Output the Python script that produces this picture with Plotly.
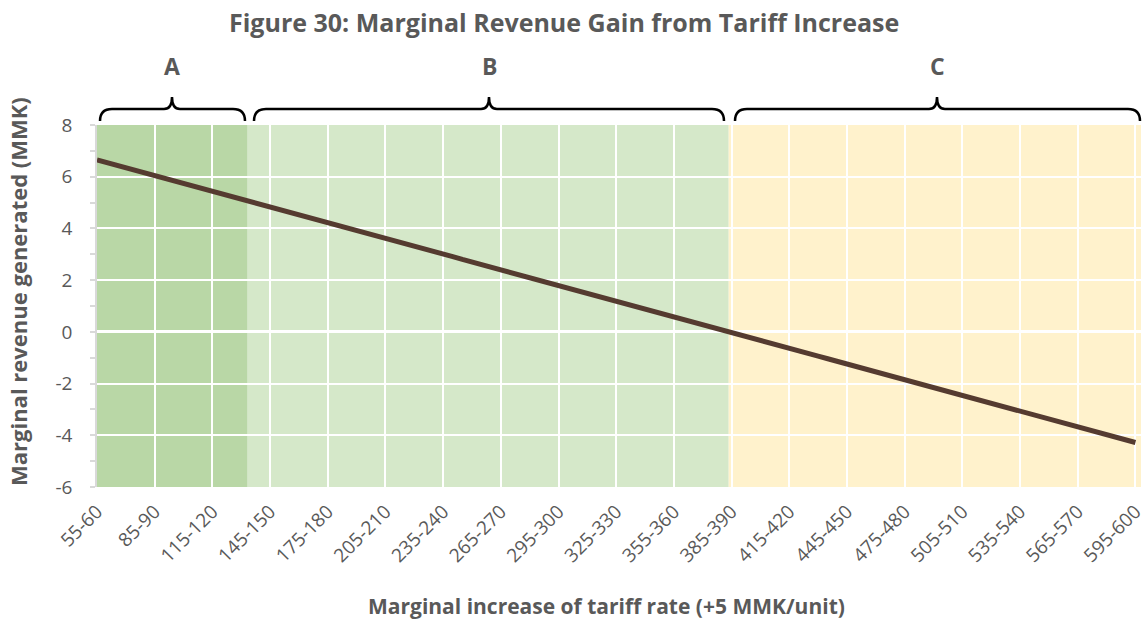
import plotly.graph_objects as go

# ---------------- data ----------------
categories = [f"{a}-{a + 5}" for a in range(55, 600, 5)]  # 55-60 ... 595-600
revenue = [
    6.65, 6.55, 6.45, 6.35, 6.25, 6.14, 6.04, 5.94, 5.84, 5.74,
    5.64, 5.54, 5.44, 5.33, 5.23, 5.13, 5.03, 4.93, 4.83, 4.73,
    4.63, 4.52, 4.42, 4.32, 4.22, 4.12, 4.02, 3.92, 3.82, 3.72,
    3.61, 3.51, 3.41, 3.31, 3.21, 3.11, 3.01, 2.91, 2.80, 2.70,
    2.60, 2.50, 2.40, 2.30, 2.20, 2.10, 1.99, 1.89, 1.79, 1.69,
    1.59, 1.49, 1.39, 1.29, 1.19, 1.08, 0.98, 0.88, 0.78, 0.68,
    0.58, 0.48, 0.38, 0.27, 0.17, 0.07, -0.03, -0.13, -0.23, -0.33,
    -0.43, -0.54, -0.64, -0.74, -0.84, -0.94, -1.04, -1.14, -1.24, -1.34,
    -1.45, -1.55, -1.65, -1.75, -1.85, -1.95, -2.05, -2.15, -2.26, -2.36,
    -2.46, -2.56, -2.66, -2.76, -2.86, -2.96, -3.07, -3.17, -3.27, -3.37,
    -3.47, -3.57, -3.67, -3.77, -3.87, -3.98, -4.08, -4.18, -4.28,
]
tick_labels = ["55-60", "85-90", "115-120", "145-150", "175-180", "205-210",
               "235-240", "265-270", "295-300", "325-330", "355-360", "385-390",
               "415-420", "445-450", "475-480", "505-510", "535-540", "565-570",
               "595-600"]
y_ticks = [-6, -4, -2, 0, 2, 4, 6, 8]
y_tick_text = ["-6", "-4", "-2", "0", "2", "4", "6", "8"]
zone_names = ["A", "B", "C"]
zone_edges = [0, 15.67, 65.7, 108.6]   # category-index positions of zone boundaries
zone_colors = ["#b9d7a6", "#d5e8c9", "#fff2cc"]

# ---------------- layout geometry (pixels) ----------------
W, H = 1145, 624
L, R, T, B = 97, 1141, 125, 487
PW, PH = R - L, B - T


def px(x):
    return (x - L) / PW


def py(y):
    return (B - y) / PH


GRAY = "#595959"
FONT = "Open Sans"

fig = go.Figure()
fig.add_trace(go.Scatter(
    x=list(range(len(categories))), y=revenue, mode="lines",
    line=dict(color="#553b30", width=5), hoverinfo="skip",
    text=categories, showlegend=False,
))

shapes = []
for i in range(3):
    shapes.append(dict(type="rect", xref="x", yref="paper",
                       x0=zone_edges[i], x1=zone_edges[i + 1] + (1 if i == 2 else 0),
                       y0=0, y1=1, fillcolor=zone_colors[i],
                       line=dict(width=0), layer="below"))

# braces (pixel geometry)
braces = [(100, 245, 172), (254, 724, 489), (735, 1140, 937)]
yb, ybar, ytip = 121, 109, 97
r, t = 12, 8
for x0, x1, xm in braces:
    pts = [
        f"M {px(x0)},{py(yb)}",
        f"Q {px(x0)},{py(ybar)} {px(x0 + r)},{py(ybar)}",
        f"L {px(xm - t)},{py(ybar)}",
        f"Q {px(xm)},{py(ybar)} {px(xm)},{py(ytip)}",
        f"Q {px(xm)},{py(ybar)} {px(xm + t)},{py(ybar)}",
        f"L {px(x1 - r)},{py(ybar)}",
        f"Q {px(x1)},{py(ybar)} {px(x1)},{py(yb)}",
    ]
    shapes.append(dict(type="path", xref="paper", yref="paper", path=" ".join(pts),
                       line=dict(color="#000000", width=2.5), layer="above"))

annotations = []
for name, (x0, x1, xm) in zip(zone_names, braces):
    annotations.append(dict(text=f"<b>{name}</b>", xref="paper", yref="paper",
                            x=px(xm), y=py(66), showarrow=False,
                            xanchor="center", yanchor="middle",
                            font=dict(family=FONT, size=23, color=GRAY)))
annotations.append(dict(text="<b>Figure 30: Marginal Revenue Gain from Tariff Increase</b>",
                        xref="paper", yref="paper", x=px(564), y=py(22), showarrow=False,
                        xanchor="center", yanchor="middle",
                        font=dict(family=FONT, size=25, color=GRAY)))
annotations.append(dict(text="<b>Marginal increase of tariff rate (+5 MMK/unit)</b>",
                        xref="paper", yref="paper", x=px(606), y=py(606), showarrow=False,
                        xanchor="center", yanchor="middle",
                        font=dict(family=FONT, size=21, color=GRAY)))
annotations.append(dict(text="<b>Marginal revenue generated (MMK)</b>",
                        xref="paper", yref="paper", x=px(18), y=py(292), showarrow=False,
                        xanchor="center", yanchor="middle", textangle=-90,
                        font=dict(family=FONT, size=22, color=GRAY)))

tick_idx = [categories.index(lbl) for lbl in tick_labels]

fig.update_layout(
    width=W, height=H,
    margin=dict(l=L, r=W - R, t=T, b=H - B, pad=0),
    paper_bgcolor="white", plot_bgcolor="white",
    shapes=shapes, annotations=annotations,
    font=dict(family=FONT, color=GRAY),
    xaxis=dict(range=[0, 108.58], tickmode="array", tickvals=tick_idx,
               ticktext=tick_labels, tickangle=-45, ticklabeloverflow="allow",
               showgrid=True, automargin=False,
               gridcolor="white", gridwidth=1.6, zeroline=False, showline=False,
               ticks="outside", ticklen=5, tickcolor="rgba(0,0,0,0)",
               tickfont=dict(family=FONT, size=19, color=GRAY)),
    yaxis=dict(range=[-6, 8], tickmode="array", tickvals=y_ticks, ticktext=y_tick_text,
               showgrid=True, gridcolor="white", automargin=False,
               gridwidth=1.6, zeroline=True, zerolinecolor="white", zerolinewidth=2.6,
               showline=True, linecolor="#d9d9d9", linewidth=1.5,
               ticks="outside", ticklen=5, tickcolor="#d9d9d9", tickwidth=1.5,
               minor=dict(dtick=1, ticks="outside", ticklen=5, tickcolor="#d9d9d9",
                          tickwidth=1.5, showgrid=False),
               ticklabelstandoff=14,
               tickfont=dict(family=FONT, size=19, color=GRAY)),
)

fig.write_html("out.html", config={"displayModeBar": False},
               post_script="document.body.style.margin='0';")
